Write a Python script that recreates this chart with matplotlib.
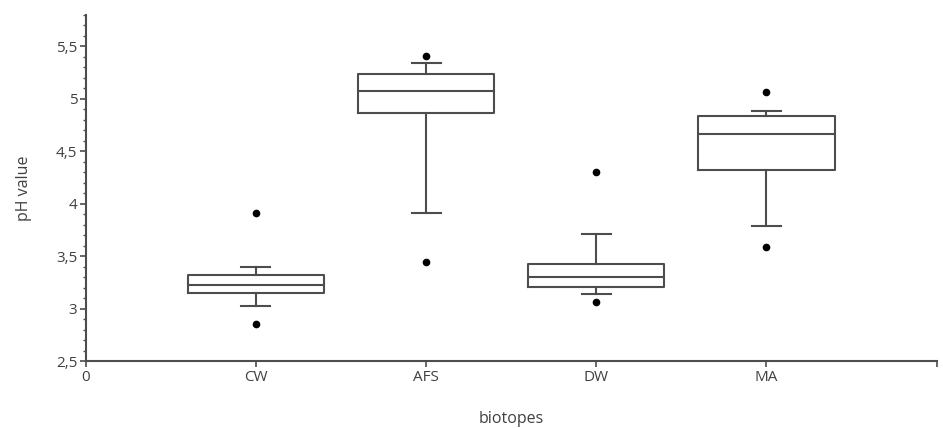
import matplotlib.pyplot as plt
from matplotlib.ticker import FuncFormatter, MultipleLocator

# box statistics
biotopes = ["CW", "AFS", "DW", "MA"]
q1 = [3.15, 4.87, 3.21, 4.32]
med = [3.23, 5.08, 3.305, 4.67]
q3 = [3.325, 5.24, 3.425, 4.84]
whislo = [3.03, 3.915, 3.145, 3.795]
whishi = [3.40, 5.34, 3.71, 4.89]
fliers = [[2.86, 3.915], [3.445, 5.41], [3.065, 4.30], [3.595, 5.065]]

stats = []
for i in range(len(biotopes)):
    stats.append(dict(label=biotopes[i], q1=q1[i], med=med[i], q3=q3[i],
                      whislo=whislo[i], whishi=whishi[i], fliers=fliers[i]))

plt.rcParams['font.family'] = ['Open Sans', 'DejaVu Sans']
grey = '#4d4d4d'

fig = plt.figure(figsize=(9.43, 4.28), dpi=100)
ax = fig.add_axes([0.0909, 0.1554, 0.9024, 0.8096])

lw = 1.5
ax.bxp(stats, positions=[1, 2, 3, 4], widths=0.8, capwidths=0.17,
       boxprops=dict(color=grey, linewidth=lw),
       medianprops=dict(color=grey, linewidth=lw),
       whiskerprops=dict(color=grey, linewidth=lw),
       capprops=dict(color=grey, linewidth=lw),
       flierprops=dict(marker='o', markerfacecolor='black', markeredgecolor='black',
                       markersize=4.5, linestyle='none'))

ax.set_xlim(0, 5)
ax.set_ylim(2.5, 5.8)
ax.set_xticks([0, 1, 2, 3, 4, 5])
ax.set_xticklabels(["0"] + biotopes + [""])
ax.yaxis.set_major_locator(MultipleLocator(0.5))
ax.yaxis.set_minor_locator(MultipleLocator(0.1))
ax.yaxis.set_major_formatter(FuncFormatter(lambda v, p: ('%g' % v).replace('.', ',')))

for s in ['top', 'right']:
    ax.spines[s].set_visible(False)
for s in ['left', 'bottom']:
    ax.spines[s].set_color(grey)
    ax.spines[s].set_linewidth(1.5)

ax.tick_params(axis='both', colors=grey, labelcolor='#404040', labelsize=11,
               width=1.2, length=4, pad=2)
ax.tick_params(axis='y', which='minor', colors=grey, width=1, length=2.5)

ax.set_xlabel("biotopes", color='#404040', fontsize=11.5, labelpad=18.5)
ax.set_ylabel("pH value", color='#404040', fontsize=11.5, labelpad=17)

fig.savefig("out.png", dpi=100)
